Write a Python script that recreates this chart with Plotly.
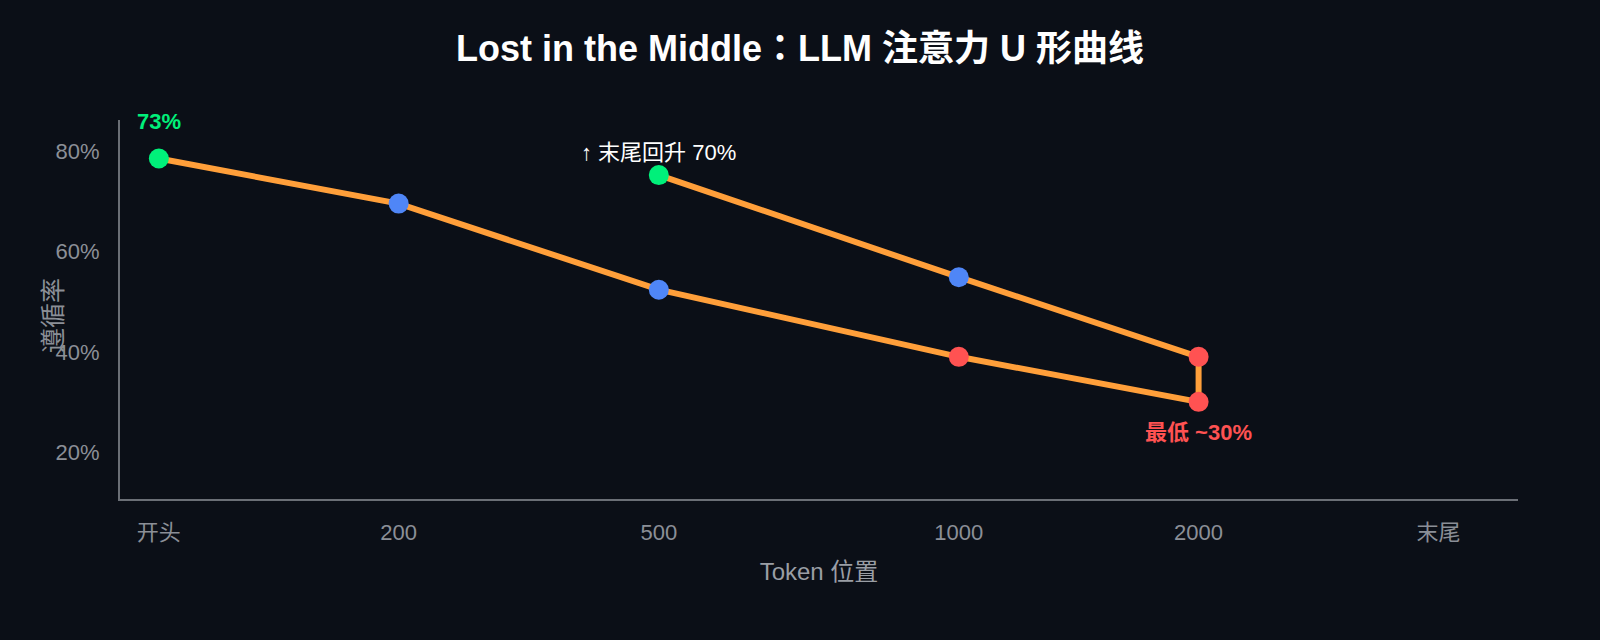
import plotly.graph_objects as go

# x axis categories and where they sit on the axis
categories = ['开头', '200', '500', '1000', '2000', '末尾']
cat_pos = [0, 1, 2.085, 3.336, 4.336, 5.336]

# the U curve, walked out and back
path_cats = ['开头', '200', '500', '1000', '2000', '2000', '1000', '500']
path_vals = [78.6, 69.6, 52.4, 39.0, 30.0, 39.0, 54.9, 75.3]
path_colors = ['#00f07a', '#4f86f7', '#4f86f7', '#ff5252', '#ff5252', '#ff5252', '#4f86f7', '#00f07a']

y_ticks = [20, 40, 60, 80]

BG = '#0b0f17'
FONT = 'Liberation Sans, Arial, Noto Sans CJK SC, sans-serif'
TITLE_FONT = 'Liberation Sans, Arial, Noto Sans CJK JP, sans-serif'

pos = dict(zip(categories, cat_pos))

fig = go.Figure()
fig.add_trace(go.Scatter(
    x=[pos[c] for c in path_cats],
    y=path_vals,
    mode='lines+markers',
    line=dict(color='#ff9f3a', width=6),
    marker=dict(size=20, color=path_colors),
    showlegend=False,
    hoverinfo='skip',
))

fig.add_annotation(x=pos['开头'], y=path_vals[0], text='<b>73%</b>', showarrow=False,
                   yshift=37, font=dict(color='#00f07a', size=22, family=FONT))
fig.add_annotation(x=pos['500'], y=path_vals[-1], text='↑ 末尾回升 70%', showarrow=False,
                   yshift=23, font=dict(color='#ffffff', size=22, family=FONT))
fig.add_annotation(x=pos['2000'], y=path_vals[4], text='<b>最低 ~30%</b>', showarrow=False,
                   yshift=-31, font=dict(color='#ff5252', size=22, family=FONT))
# y axis title sits over the tick labels, so place it by hand
fig.add_annotation(xref='paper', yref='paper', x=0, y=0.483, xshift=-67,
                   text='遵循率', textangle=-90, showarrow=False,
                   xanchor='center', yanchor='middle',
                   font=dict(size=25, color='#8b8f97', family=FONT))

fig.update_layout(
    width=1600, height=640,
    paper_bgcolor=BG, plot_bgcolor=BG,
    margin=dict(l=120, r=82, t=120, b=141),
    font=dict(family=FONT, color='#8b8f97', size=22),
    title=dict(text='<b>Lost in the Middle：LLM 注意力 U 形曲线</b>',
               x=0.5, xanchor='center', y=0.925, yanchor='middle',
               font=dict(size=36, color='#ffffff', family=TITLE_FONT)),
)
fig.update_xaxes(
    range=[-0.162, 5.668],
    tickmode='array', tickvals=cat_pos, ticktext=categories,
    showgrid=False, zeroline=False,
    showline=True, linecolor='#6b6f76', linewidth=2,
    ticks='', ticklabelstandoff=13,
    tickfont=dict(size=22, color='#8b8f97'),
    title=dict(text='Token 位置', standoff=19, font=dict(size=24, color='#9a9ea5')),
)
fig.update_yaxes(
    range=[10.6, 86.3],
    tickmode='array', tickvals=y_ticks, ticktext=[f'{v}%' for v in y_ticks],
    showgrid=False, zeroline=False,
    showline=True, linecolor='#6b6f76', linewidth=2,
    ticks='', ticklabelstandoff=14,
    tickfont=dict(size=22, color='#8b8f97'),
)

fig.write_html('out.html', config={'displayModeBar': False},
               post_script="document.body.style.margin='0';document.body.style.background='%s';" % BG)
